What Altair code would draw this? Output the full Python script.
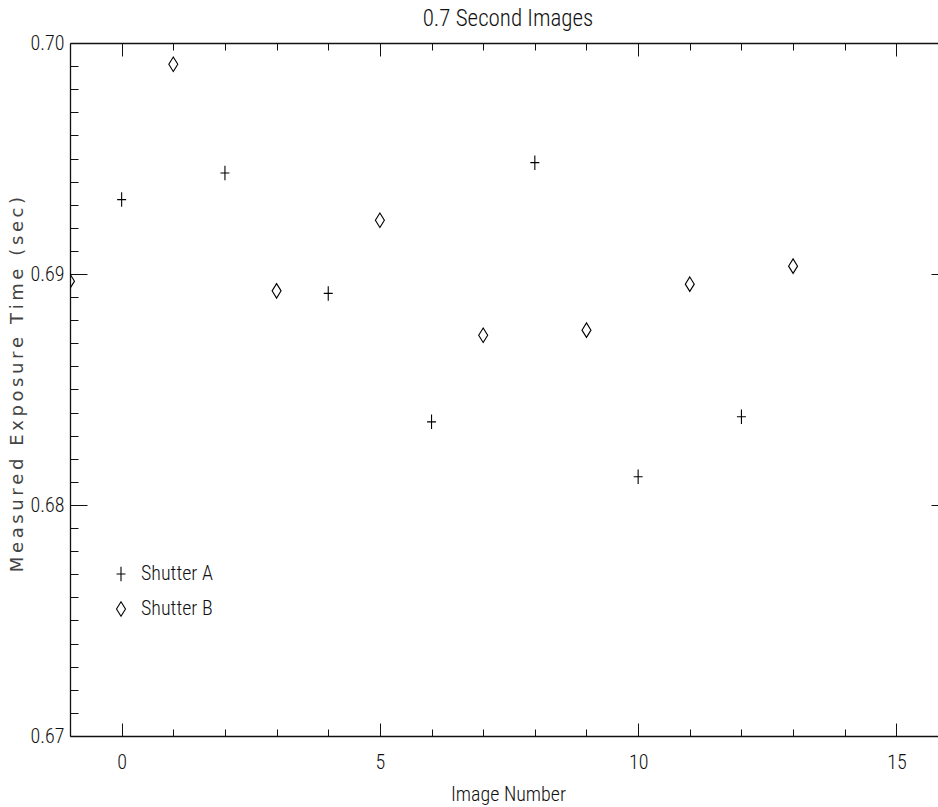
import altair as alt
import pandas as pd

# ---- data ----
chart_title = "0.7 Second Images"
x_title = "Image Number"
y_title = "Measured Exposure Time (sec)"
series_names = ["Shutter A", "Shutter B"]

a_x = [0, 2, 4, 6, 8, 10, 12]
a_y = [0.69322, 0.69437, 0.68916, 0.68360, 0.69482, 0.68122, 0.68382]
b_x = [-1, 1, 3, 5, 7, 9, 11, 13]
b_y = [0.68969, 0.69908, 0.68927, 0.69233, 0.68735, 0.68757, 0.68956, 0.69034]

x_major = [0, 5, 10, 15]
x_minor = [1, 2, 3, 4, 6, 7, 8, 9, 11, 12, 13, 14]
y_major = [0.67, 0.68, 0.69, 0.70]
y_minor = [0.671, 0.672, 0.673, 0.674, 0.675, 0.676, 0.677, 0.678, 0.679,
           0.681, 0.682, 0.683, 0.684, 0.685, 0.686, 0.687, 0.688, 0.689,
           0.691, 0.692, 0.693, 0.694, 0.695, 0.696, 0.697, 0.698, 0.699]

# ---- styling ----
W, H = 868, 693
FONT = "Roboto Condensed, DejaVu Sans Condensed, sans-serif"
FW = 300
INK = "#111111"
plus_path = "M-0.62,0L0.62,0M0,-1L0,1"
diamond_path = "M0,-1L0.62,0L0,1L-0.62,0Z"

df = pd.DataFrame({
    "image": a_x + b_x,
    "time": a_y + b_y,
    "shutter": [series_names[0]] * len(a_x) + [series_names[1]] * len(b_x),
})

xs = alt.Scale(domain=[-1, 15.806], nice=False, zero=False)
ys = alt.Scale(domain=[0.67, 0.70], nice=False, zero=False)


def tick_axis(orient, offset, values, size):
    return alt.Axis(orient=orient, offset=offset, values=values, tickSize=size,
                    ticks=True, labels=False, domain=False, grid=False, title=None,
                    tickColor=INK, tickWidth=1)


def enc(xaxis, yaxis):
    return dict(
        x=alt.X("image:Q", scale=xs, axis=xaxis),
        y=alt.Y("time:Q", scale=ys, axis=yaxis),
    )


x_label_axis = alt.Axis(
    orient="bottom", values=x_major, format="d", ticks=False, tickSize=0,
    domain=True, domainColor=INK, domainWidth=1.3, grid=False,
    labelFont=FONT, labelFontSize=20, labelFontWeight=FW, labelColor=INK,
    labelPadding=16, labelFlush=False, labelOverlap=False,
    title=x_title, titleFont=FONT, titleFontSize=20, titleFontWeight=FW,
    titleColor=INK, titleBaseline="alphabetic", titleY=64, titleX=438,
)
y_label_axis = alt.Axis(
    orient="left", values=y_major, format=".2f", ticks=False, tickSize=0,
    domain=True, domainColor=INK, domainWidth=1.3, grid=False,
    labelFont=FONT, labelFontSize=20, labelFontWeight=FW, labelColor=INK,
    labelPadding=6, labelFlush=False, labelOverlap=False,
    title="\u2009".join(y_title), titleFont="DejaVu Sans", titleFontSize=18,
    titleFontWeight="normal", titleColor="#444444", titleAngle=270,
    titleBaseline="middle", titleAlign="center", titleX=-53, titleY=341,
)
x_top_major = alt.Axis(orient="bottom", offset=-H, values=x_major, tickSize=13,
                       ticks=True, labels=False, domain=True, domainColor=INK,
                       domainWidth=1.3, grid=False, title=None,
                       tickColor=INK, tickWidth=1)

points = alt.Chart(df).mark_point(filled=False, strokeWidth=1.1, size=210,
                                  color="black", opacity=1, clip=True).encode(
    shape=alt.Shape("shutter:N",
                    scale=alt.Scale(domain=series_names, range=[plus_path, diamond_path]),
                    legend=alt.Legend(orient="none", legendX=41, legendY=521, title=None,
                                      padding=0, labelFont=FONT, labelFontWeight=FW,
                                      labelFontSize=20,
                                      labelColor=INK, labelOffset=10, rowPadding=15,
                                      symbolSize=210, symbolStrokeWidth=1.1,
                                      symbolStrokeColor="black",
                                      symbolFillColor="transparent")),
    **enc(x_label_axis, y_label_axis),
)

ghost = alt.Chart(df).mark_point(opacity=0)
l1 = ghost.encode(**enc(tick_axis("top", -H, x_major, 13), tick_axis("right", -W, y_major, 17)))
l2 = ghost.encode(**enc(tick_axis("top", -H, x_minor, 7), tick_axis("right", -W, y_minor, 8)))
l3 = ghost.encode(**enc(x_top_major, tick_axis("left", -W, y_major, 7)))
l4 = ghost.encode(**enc(tick_axis("bottom", -H, x_minor, 7), None))

chart = alt.layer(points, l1, l2, l3, l4).resolve_axis(
    x="independent", y="independent"
).properties(
    width=W, height=H,
    autosize=alt.AutoSizeParams(type="none"),
    padding={"left": 70, "top": 43, "right": 0, "bottom": 71},
    title=alt.TitleParams(text=chart_title, font=FONT, fontSize=23, fontWeight=FW,
                          color=INK, anchor="middle", offset=8, dx=4, dy=6),
    background="white",
).configure_view(stroke=None).configure_axis(grid=False)

chart.save("out.html", embed_options={"renderer": "svg", "actions": False})
